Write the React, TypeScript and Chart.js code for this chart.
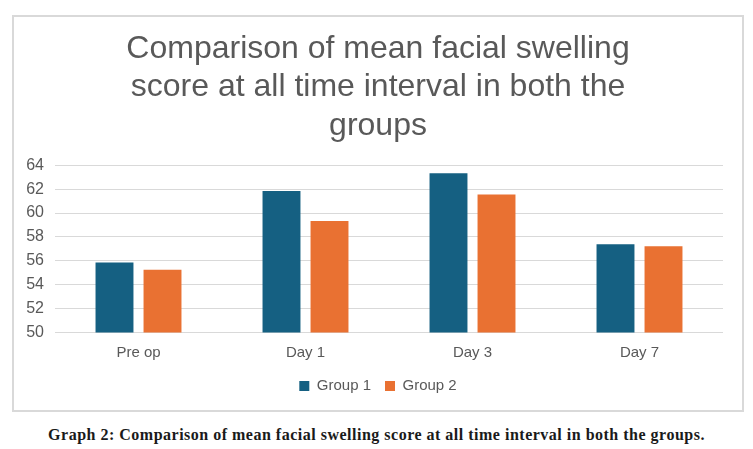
import React, { useEffect, useRef } from "react";
import { Chart, registerables } from "chart.js";

Chart.register(...registerables);

const categories = ["Pre op", "Day 1", "Day 3", "Day 7"];
const group1 = [55.85, 61.85, 63.32, 57.38];
const group2 = [55.26, 59.33, 61.54, 57.21];
const titleLines = [
  "Comparison of mean facial swelling",
  "score at all time interval in both the",
  "groups",
];
const caption =
  "Graph 2: Comparison of mean facial swelling score at all time interval in both the groups.";

export default function App() {
  const ref = useRef<HTMLCanvasElement | null>(null);
  useEffect(() => {
    if (!ref.current) return;
    const font = "'Liberation Sans', Arial, sans-serif";
    const chart = new Chart(ref.current, {
      type: "bar",
      data: {
        labels: categories,
        datasets: [
          {
            label: "Group 1",
            data: group1,
            backgroundColor: "#156082",
            categoryPercentage: 0.575,
            barPercentage: 0.79,
          },
          {
            label: "Group 2",
            data: group2,
            backgroundColor: "#E97132",
            categoryPercentage: 0.575,
            barPercentage: 0.79,
          },
        ],
      },
      options: {
        animation: false,
        responsive: false,
        maintainAspectRatio: false,
        layout: { padding: { left: 0, right: 0, top: 13, bottom: 6.5 } },
        plugins: {
          title: {
            display: true,
            text: titleLines,
            color: "#595959",
            font: { family: font, size: 32, weight: "normal", lineHeight: 1.2 },
            padding: { top: 0, bottom: 20 },
          },
          legend: {
            position: "bottom",
            labels: {
              color: "#595959",
              font: { family: font, size: 15 },
              boxWidth: 10,
              boxHeight: 10,
              padding: 14,
            },
          },
          tooltip: { enabled: false },
        },
        scales: {
          x: {
            grid: { display: false },
            border: { display: false },
            ticks: { color: "#595959", font: { family: font, size: 15 }, padding: 3 },
          },
          y: {
            min: 50,
            max: 64,
            afterFit: (s: any) => {
              s.width = 41;
            },
            grid: { color: "#d9d9d9", drawTicks: false },
            border: { display: false },
            ticks: {
              stepSize: 2,
              color: "#595959",
              font: { family: font, size: 16 },
              padding: 11,
            },
          },
          yRight: {
            position: "right",
            display: true,
            min: 50,
            max: 64,
            afterFit: (s: any) => {
              s.width = 19;
            },
            grid: { display: false },
            border: { display: false },
            ticks: { display: false },
          },
        },
      },
    });
    return () => chart.destroy();
  }, []);

  return (
    <div style={{ position: "relative", width: 753, height: 449 }}>
      <div
        style={{
          position: "absolute",
          left: 4,
          top: 7,
          width: 728,
          height: 393,
          border: "2px solid #d9d9d9",
          background: "#fff",
        }}
      >
        <canvas ref={ref} width={728} height={393} style={{ display: "block" }} />
      </div>
      <div
        style={{
          position: "absolute",
          left: -8,
          top: 417,
          width: 753,
          textAlign: "center",
          fontFamily: "'Liberation Serif', 'DejaVu Serif', serif",
          fontWeight: "bold",
          fontSize: 16,
          letterSpacing: "0.5px",
          lineHeight: "20px",
          color: "#1a1a1a",
        }}
      >
        {caption}
      </div>
    </div>
  );
}
